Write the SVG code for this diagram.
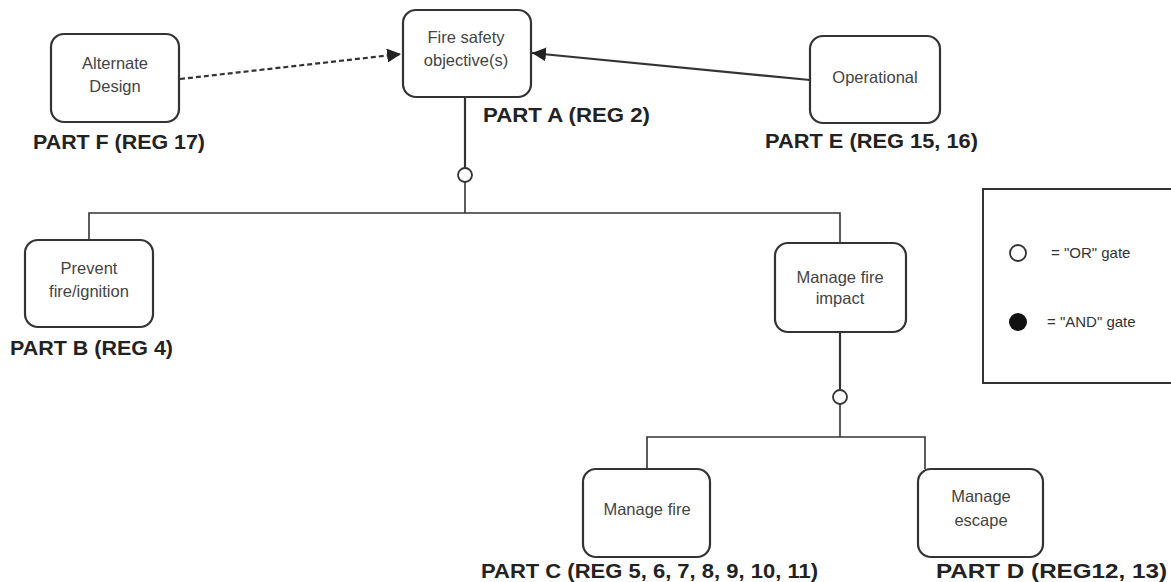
<svg xmlns="http://www.w3.org/2000/svg" width="1171" height="582" viewBox="0 0 1171 582">
<defs>
<style>
.box{fill:#fff;stroke:#333;stroke-width:2.2}
.t{font-family:"Liberation Sans",Arial,sans-serif;font-size:16.5px;fill:#444;text-anchor:middle}
.p{font-family:"Liberation Sans",Arial,sans-serif;font-size:20px;font-weight:bold;fill:#222}
.ln{fill:none;stroke:#333;stroke-width:2.2}
.lt{fill:none;stroke:#333;stroke-width:1.6}
.gate{fill:#fff;stroke:#333;stroke-width:1.8}
.lg{font-family:"Liberation Sans",Arial,sans-serif;font-size:15px;fill:#333}
</style>
<marker id="ah" viewBox="0 0 10 10" refX="10" refY="5" markerWidth="14" markerHeight="14" markerUnits="userSpaceOnUse" orient="auto">
<path d="M0,0 L10,5 L0,10 z" fill="#222"/>
</marker>
</defs>
<rect width="1171" height="582" fill="#fff"/>
<g id="connectors">
<line class="ln" x1="180" y1="79" x2="401" y2="54" stroke-dasharray="5,3" marker-end="url(#ah)"/>
<line class="ln" x1="810" y1="80" x2="532" y2="53" marker-end="url(#ah)"/>
<line class="ln" x1="465" y1="97" x2="465" y2="168"/>
<line class="lt" x1="465" y1="182" x2="465" y2="213"/>
<polyline class="lt" points="89,240 89,213 840,213 840,243"/>
<line class="ln" x1="840" y1="332" x2="840" y2="390"/>
<line class="lt" x1="840" y1="404" x2="840" y2="437"/>
<polyline class="lt" points="647,469 647,437 925,437 925,469"/>
<circle class="gate" cx="465" cy="175" r="7"/>
<circle class="gate" cx="840" cy="397" r="7"/>
</g>
<g id="alternate">
<rect class="box" x="51" y="34" width="128" height="88" rx="13"/>
<text class="t" x="115" y="69">Alternate</text>
<text class="t" x="115" y="92">Design</text>
<text class="p" x="33" y="149" textLength="172" lengthAdjust="spacingAndGlyphs">PART F (REG 17)</text>
</g>
<g id="fire-safety">
<rect class="box" x="403" y="10" width="128" height="87" rx="13"/>
<text class="t" x="466" y="43">Fire safety</text>
<text class="t" x="466" y="66">objective(s)</text>
<text class="p" x="483" y="122" textLength="167" lengthAdjust="spacingAndGlyphs">PART A (REG 2)</text>
</g>
<g id="operational">
<rect class="box" x="810" y="36" width="130" height="87" rx="13"/>
<text class="t" x="875" y="83">Operational</text>
<text class="p" x="765" y="148" textLength="213" lengthAdjust="spacingAndGlyphs">PART E (REG 15, 16)</text>
</g>
<g id="prevent">
<rect class="box" x="25" y="240" width="128" height="87" rx="13"/>
<text class="t" x="89" y="274">Prevent</text>
<text class="t" x="89" y="297">fire/ignition</text>
<text class="p" x="10" y="355" textLength="163" lengthAdjust="spacingAndGlyphs">PART B (REG 4)</text>
</g>
<g id="manage-fire-impact">
<rect class="box" x="775" y="243" width="131" height="89" rx="13"/>
<text class="t" x="840" y="283">Manage fire</text>
<text class="t" x="840" y="304">impact</text>
</g>
<g id="manage-fire">
<rect class="box" x="583" y="469" width="127" height="88" rx="13"/>
<text class="t" x="647" y="515">Manage fire</text>
<text class="p" x="481" y="578" textLength="337" lengthAdjust="spacingAndGlyphs">PART C (REG 5, 6, 7, 8, 9, 10, 11)</text>
</g>
<g id="manage-escape">
<rect class="box" x="918" y="469" width="125" height="88" rx="13"/>
<text class="t" x="981" y="502">Manage</text>
<text class="t" x="981" y="526">escape</text>
<text class="p" x="936" y="578" textLength="231" lengthAdjust="spacingAndGlyphs">PART D (REG12, 13)</text>
</g>
<g id="legend">
<rect x="983" y="189" width="200" height="194" fill="#fff" stroke="#333" stroke-width="2"/>
<circle class="gate" cx="1018" cy="253" r="8"/>
<text class="lg" x="1051" y="258">= "OR" gate</text>
<circle cx="1018" cy="322" r="9" fill="#111"/>
<text class="lg" x="1047" y="327">= "AND" gate</text>
</g>
</svg>
